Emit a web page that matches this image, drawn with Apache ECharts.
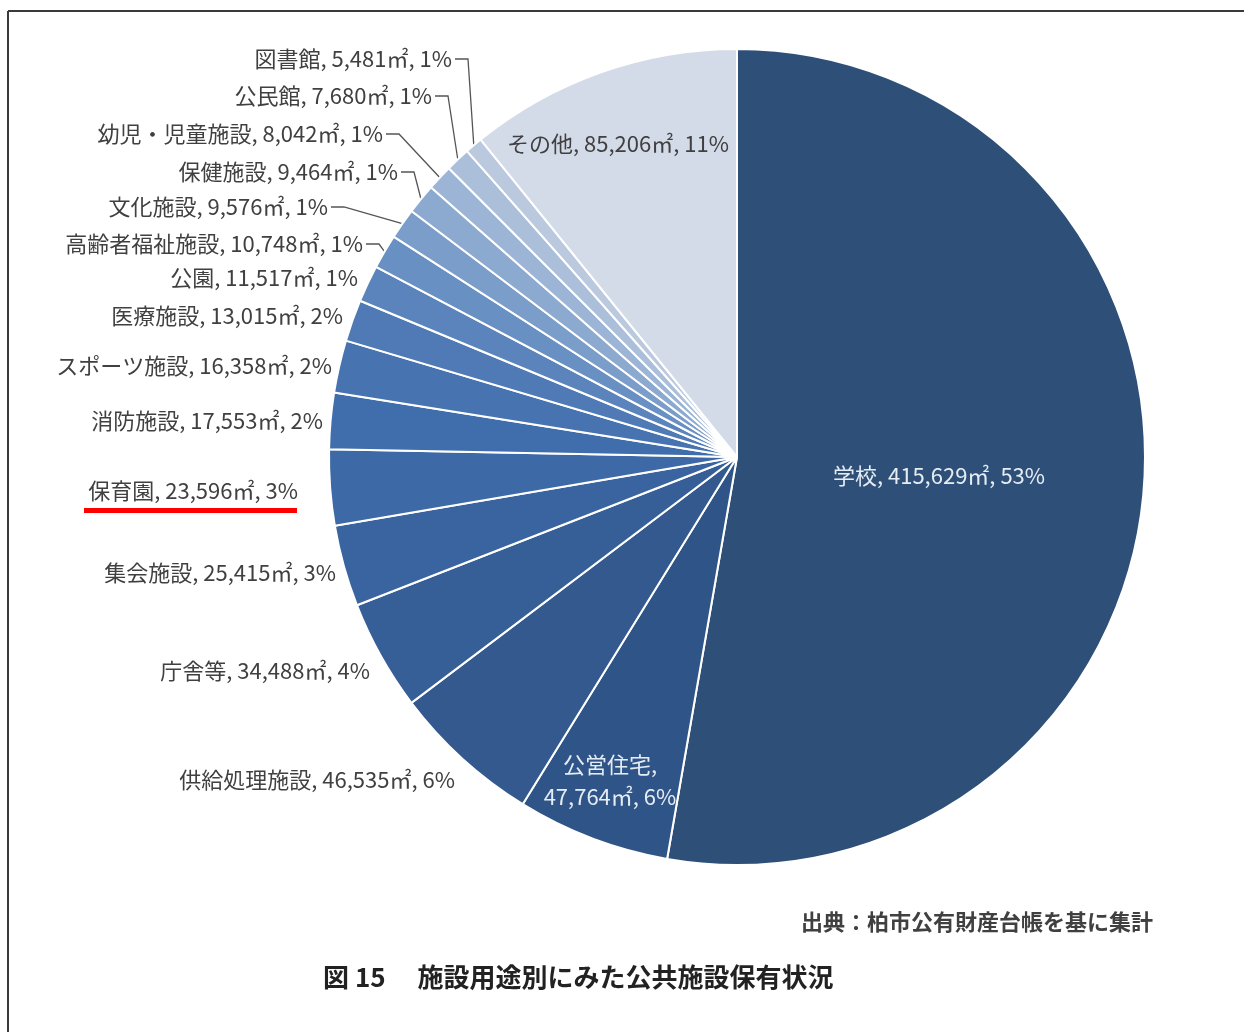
<!DOCTYPE html>
<html>
<head>
<meta charset="utf-8">
<script src="https://cdn.jsdelivr.net/npm/echarts@6/dist/echarts.min.js"></script>
<style>
html,body{margin:0;padding:0;background:#fff;}
#chart{width:1244px;height:1032px;}
</style>
</head>
<body>
<div id="chart"></div>
<script>
// ---- data ----
const categories = ['学校','公営住宅','供給処理施設','庁舎等','集会施設','保育園','消防施設','スポーツ施設','医療施設','公園','高齢者福祉施設','文化施設','保健施設','幼児・児童施設','公民館','図書館','その他'];
const areas = [415629,47764,46535,34488,25415,23596,17553,16358,13015,11517,10748,9576,9464,8042,7680,5481,85206];
const sourceText = '出典：柏市公有財産台帳を基に集計';
const captionText = '図 15　 施設用途別にみた公共施設保有状況';

// ---- styles / layout ----
const sliceColors = ['#2E5078','#2F5487','#33598F','#365F98','#3A64A0','#3D69A7','#406EAC','#4774B1','#4F7AB6','#5A84BB','#6890C2','#7B9DC9','#8CA9CF','#9CB4D5','#ABBFDA','#BBC9DF','#D3DAE8'];
const labelColors = ['#E6ECF4','#E6ECF4'];
const labelAnchors = [[939,476,'center'],[610,781,'center'],[455,780,'right'],[370,671,'right'],[336,573,'right'],[298,491,'right'],[323,421,'right'],[332,366,'right'],[343,316,'right'],[358,278,'right'],[363,244,'right'],[328,207,'right'],[398,172,'right'],[383,134,'right'],[432,96,'right'],[452,59,'right'],[618,144,'center']];
const leaderIdx = [10,11,12,13,14,15];
const wrapNames = ['公営住宅'];

const total = areas.reduce((a,b)=>a+b,0);
const fmt = v => v.toLocaleString('en-US');
const FONT = '"Noto Sans CJK JP","Noto Sans",sans-serif';

const seriesData = categories.map((c,i)=>({
  name:c, value:areas[i],
  itemStyle:{color:sliceColors[i]},
  label:{color: labelColors[i] || '#404040'},
  labelLine:{show: leaderIdx.includes(i)}
}));

const chart = echarts.init(document.getElementById('chart'));
chart.setOption({
  backgroundColor:'#fff',
  animation:false,
  graphic:[
    {type:'line', shape:{x1:8,y1:11,x2:1244,y2:11}, style:{stroke:'#3a3a3a',lineWidth:2}},
    {type:'line', shape:{x1:8,y1:11,x2:8,y2:1032}, style:{stroke:'#3a3a3a',lineWidth:2}},
    {type:'rect', shape:{x:84,y:508,width:213,height:5}, style:{fill:'#FF0000'}},
    {type:'text', right:91, top:911, style:{text:sourceText, fill:'#404040', font:'bold 22px '+FONT}},
    {type:'text', left:323, top:964, style:{text:captionText, fill:'#222', font:'bold 26px '+FONT}}
  ],
  series:[{
    type:'pie',
    center:[737,457],
    radius:408,
    startAngle:90,
    clockwise:true,
    avoidLabelOverlap:false,
    itemStyle:{borderColor:'#fff',borderWidth:2},
    label:{
      show:true, position:'outside',
      fontFamily:FONT, fontSize:22, lineHeight:32,
      formatter:p=>{
        const pct = Math.round(p.value/total*100);
        const sep = wrapNames.includes(p.name) ? ',\n' : ', ';
        return p.name + sep + fmt(p.value) + '㎡, ' + pct + '%';
      }
    },
    labelLine:{lineStyle:{color:'#555',width:1.3}, length:10, length2:10},
    labelLayout:function(params){
      const i = params.dataIndex;
      const a = labelAnchors[i];
      const out = {x:a[0], y:a[1], align:a[2], verticalAlign:'middle'};
      if (leaderIdx.includes(i) && params.labelLinePoints){
        const edge = params.labelLinePoints[0];
        out.labelLinePoints = [edge, [a[0]+16, a[1]], [a[0]+3, a[1]]];
      }
      return out;
    },
    data:seriesData
  }]
});
</script>
</body>
</html>
